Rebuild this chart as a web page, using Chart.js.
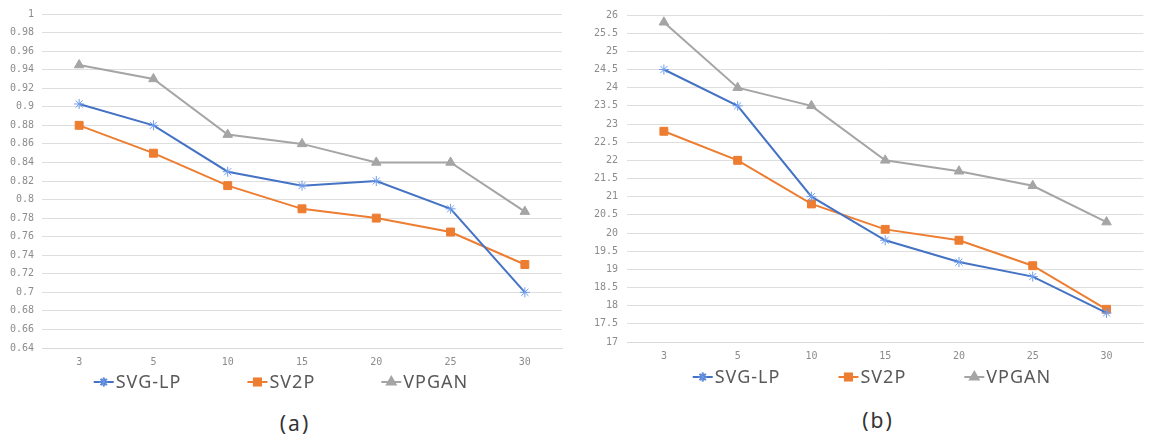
<!DOCTYPE html>
<html>
<head>
<meta charset="utf-8">
<script src="https://cdn.jsdelivr.net/npm/chart.js"></script>
<style>
	body { margin: 0; background: #fff; width: 1150px; height: 440px; position: relative; overflow: hidden; }
	.box { position: absolute; top: 0; width: 575px; height: 400px; }
	.cap { position: absolute; font-family: 'Noto Sans', sans-serif; font-size: 21px; letter-spacing: 2px; color: #333; transform: translate(-50%, -50%); }
</style>
</head>
<body>
<div class="box" style="left:0"><canvas id="chart-a"></canvas></div>
<div class="box" style="left:575px"><canvas id="chart-b"></canvas></div>
<div class="cap" style="left:295px;top:423px">(a)</div>
<div class="cap" style="left:878px;top:420px">(b)</div>
<script>
var labels = ['3', '5', '10', '15', '20', '25', '30'],
	seriesNames = ['SVG-LP', 'SV2P', 'VPGAN'];

// (a)
var svgA = [0.903, 0.88, 0.83, 0.815, 0.82, 0.79, 0.70],
	sv2pA = [0.88, 0.85, 0.815, 0.79, 0.78, 0.765, 0.73],
	vpganA = [0.945, 0.93, 0.87, 0.86, 0.84, 0.84, 0.787];

// (b)
var svgB = [24.5, 23.5, 21.0, 19.8, 19.2, 18.8, 17.8],
	sv2pB = [22.8, 22.0, 20.8, 20.1, 19.8, 19.1, 17.9],
	vpganB = [25.8, 24.0, 23.5, 22.0, 21.7, 21.3, 20.3];

var styles = [
	{ color: '#4472C4', point: 'star', pointColor: '#6d9ceb', radius: 5 },
	{ color: '#ED7D31', point: 'rect', pointColor: '#ED7D31', radius: 5.6 },
	{ color: '#A5A5A5', point: 'triangle', pointColor: '#A5A5A5', radius: 5.5 }
];

function makeDatasets(series) {
	return series.map(function (data, i) {
		var s = styles[i];
		return {
			label: seriesNames[i],
			data: data,
			borderColor: s.color,
			borderWidth: 2,
			pointStyle: s.point,
			pointRadius: s.radius,
			pointBackgroundColor: s.pointColor,
			pointBorderColor: s.pointColor,
			pointBorderWidth: 1,
			tension: 0
		};
	});
}

// excel style legend: short line + marker + name
var lineLegend = {
	id: 'lineLegend',
	afterDraw: function (chart, args, opts) {
		var ctx = chart.ctx,
			items = chart.data.datasets,
			seg = 20, txtGap = 2;
		ctx.save();
		ctx.font = '18px "Noto Sans", sans-serif';
		ctx.letterSpacing = '1px';
		var widths = items.map(function (d) { return seg + txtGap + ctx.measureText(d.label).width; });
		var total = widths.reduce(function (a, b) { return a + b; }, 0) + opts.gap * (items.length - 1);
		var x = opts.cx - total / 2, y = opts.y;
		items.forEach(function (d, i) {
			ctx.strokeStyle = d.borderColor;
			ctx.lineWidth = 2;
			ctx.beginPath();
			ctx.moveTo(x, y);
			ctx.lineTo(x + seg, y);
			ctx.stroke();
			Chart.helpers.drawPoint(ctx, {
				pointStyle: d.pointStyle,
				radius: d.pointRadius - 0.6,
				borderWidth: 1,
				rotation: 0
			}, x + seg / 2, y);
			ctx.fillStyle = d.pointBackgroundColor;
			ctx.strokeStyle = d.pointBorderColor;
			ctx.lineWidth = 1;
			ctx.fill();
			ctx.stroke();
			ctx.fillStyle = '#595959';
			ctx.textBaseline = 'middle';
			ctx.textAlign = 'left';
			ctx.fillText(d.label, x + seg + txtGap, y + 1);
			x += widths[i] + opts.gap;
		});
		ctx.restore();
	}
};

function makeChart(id, series, yr, lay, leg) {
	var ctx = document.getElementById(id).getContext('2d');
	return new Chart(ctx, {
		type: 'line',
		data: { labels: labels, datasets: makeDatasets(series) },
		plugins: [lineLegend],
		options: {
			responsive: true,
			maintainAspectRatio: false,
			animation: false,
			layout: { padding: { left: 0, right: lay.right, top: lay.top, bottom: lay.bottom } },
			plugins: {
				legend: { display: false },
				tooltip: { enabled: false },
				lineLegend: leg
			},
			scales: {
				x: {
					offset: true,
					grid: { display: false, drawTicks: false },
					border: { display: true, color: '#d9d9d9', width: 1 },
					ticks: { color: '#8c8c8c', padding: 8, font: { family: 'DejaVu Sans Mono', size: 10 } },
					afterFit: function (s) { s.height = 30; }
				},
				y: {
					min: yr.min,
					max: yr.max,
					grid: { color: '#dedede', lineWidth: 1, drawTicks: false },
					border: { display: false },
					ticks: {
						stepSize: yr.step,
						color: '#8c8c8c',
						padding: lay.tickPad,
						font: { family: 'DejaVu Sans Mono', size: 10 },
						callback: function (v) { return String(+v.toFixed(yr.dec)); }
					},
					afterFit: function (s) { s.width = lay.left; }
				}
			}
		}
	});
}

makeChart('chart-a', [svgA, sv2pA, vpganA],
	{ min: 0.64, max: 1, step: 0.02, dec: 2 },
	{ left: 42, right: 13, top: 9, bottom: 22, tickPad: 8 },
	{ cx: 281, y: 382, gap: 66 });

makeChart('chart-b', [svgB, sv2pB, vpganB],
	{ min: 17, max: 26, step: 0.5, dec: 1 },
	{ left: 52, right: 2, top: 8, bottom: 28, tickPad: 9 },
	{ cx: 297, y: 377, gap: 58 });
</script>
</body>
</html>
